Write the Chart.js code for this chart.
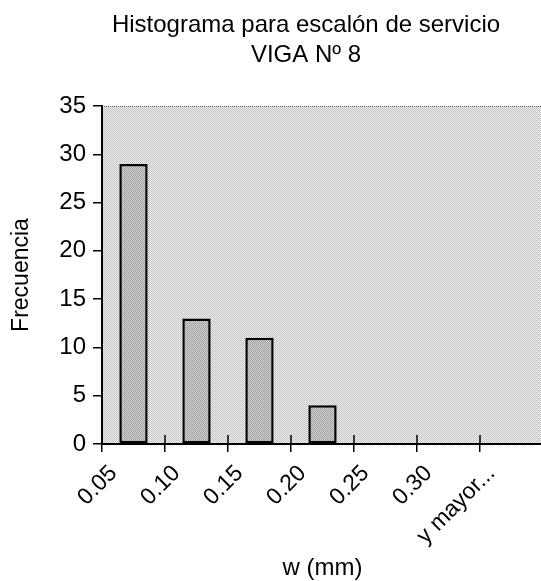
<!DOCTYPE html>
<html>
<head>
<meta charset="utf-8">
<script src="https://cdn.jsdelivr.net/npm/chart.js@4.4.0/dist/chart.umd.min.js"></script>
<style>
  html, body { margin: 0; padding: 0; background: #fff; overflow: hidden; }
  #wrap { width: 543px; height: 581px; }
</style>
</head>
<body>
<div id="wrap"><canvas id="hist"></canvas></div>
<script>
// histogram data
const titleLines = ['Histograma para escalón de servicio', 'VIGA Nº 8']
const classes = ['0.05', '0.10', '0.15', '0.20', '0.25', '0.30', 'y mayor...']
const frequencies = [29, 13, 11, 4, 0, 0, 0]
const yTicks = [0, 5, 10, 15, 20, 25, 30, 35]

const FONT = "'Liberation Sans', Arial, sans-serif"

// small checker pattern so the fills look like printed halftone
function halftone(dark, light) {
  const c = document.createElement('canvas')
  c.width = 2
  c.height = 2
  const g = c.getContext('2d')
  g.fillStyle = light
  g.fillRect(0, 0, 2, 2)
  g.fillStyle = dark
  g.fillRect(0, 0, 1, 1)
  g.fillRect(1, 1, 1, 1)
  return g.createPattern(c, 'repeat')
}

const plotFill = halftone('#c6c6c6', '#ececec')
const barFill = halftone('#a4a4a4', '#cdcdcd')

// grey plot area plus the dotted top edge
const plotBackground = {
  id: 'plotBackground',
  beforeDraw(chart) {
    const { ctx, chartArea: a } = chart
    ctx.save()
    ctx.fillStyle = plotFill
    ctx.fillRect(a.left, a.top, a.right - a.left, a.bottom - a.top)
    ctx.strokeStyle = '#555'
    ctx.lineWidth = 1
    ctx.setLineDash([1, 1])
    ctx.beginPath()
    ctx.moveTo(a.left, a.top + 0.5)
    ctx.lineTo(a.right, a.top + 0.5)
    ctx.stroke()
    ctx.restore()
  }
}

// two line title, centred a bit left of the plot
const chartTitle = {
  id: 'chartTitle',
  afterDraw(chart) {
    const { ctx } = chart
    ctx.save()
    ctx.fillStyle = '#000'
    ctx.font = '24px ' + FONT
    ctx.textAlign = 'center'
    ctx.textBaseline = 'alphabetic'
    ctx.fillText(titleLines[0], 306, 32)
    ctx.fillText(titleLines[1], 306, 62)
    ctx.restore()
  }
}

// x tick marks cross the axis, draw the part inside the plot
const crossTicks = {
  id: 'crossTicks',
  afterDatasetsDraw(chart) {
    const { ctx, chartArea: a, scales: { x } } = chart
    ctx.save()
    ctx.strokeStyle = '#000'
    ctx.lineWidth = 1.5
    ctx.beginPath()
    for (let i = 1; i <= classes.length; i++) {
      const px = (x.getPixelForValue(i - 1) + x.getPixelForValue(i)) / 2
      ctx.moveTo(px, a.bottom)
      ctx.lineTo(px, a.bottom - 9)
    }
    ctx.stroke()
    ctx.restore()
  }
}

new Chart(document.getElementById('hist'), {
  type: 'bar',
  data: {
    labels: classes,
    datasets: [{
      data: frequencies,
      backgroundColor: barFill,
      borderColor: '#000',
      borderWidth: 2.5,
      borderSkipped: false,
      categoryPercentage: 1,
      barPercentage: 0.45
    }]
  },
  options: {
    responsive: true,
    maintainAspectRatio: false,
    animation: false,
    layout: { padding: { top: 106, left: 0, right: 0, bottom: 0 } },
    plugins: {
      legend: { display: false },
      tooltip: { enabled: false }
    },
    scales: {
      x: {
        afterFit(scale) { scale.height = 137 },
        grid: {
          offset: true,
          drawOnChartArea: false,
          drawTicks: true,
          tickLength: 8,
          color: '#000',
          lineWidth: 1.5
        },
        border: { color: '#000', width: 2 },
        ticks: {
          color: '#000',
          font: { family: FONT, size: 23 },
          minRotation: 45,
          maxRotation: 45,
          padding: 8,
          labelOffset: -20,
          autoSkip: false
        },
        title: {
          display: true,
          text: 'w (mm)',
          color: '#000',
          font: { family: FONT, size: 24, lineHeight: 1 },
          padding: { top: 0, bottom: 1 }
        }
      },
      y: {
        min: yTicks[0],
        max: yTicks[yTicks.length - 1],
        afterFit(scale) { scale.width = 102 },
        grid: {
          drawOnChartArea: false,
          drawTicks: true,
          tickLength: 9,
          color: '#000',
          lineWidth: 1.5
        },
        border: { color: '#000', width: 2 },
        ticks: {
          stepSize: yTicks[1] - yTicks[0],
          color: '#000',
          font: { family: FONT, size: 24 },
          padding: 7
        },
        title: {
          display: true,
          text: 'Frecuencia',
          color: '#000',
          font: { family: FONT, size: 23, lineHeight: 1.2 },
          padding: { top: 8, bottom: 0 }
        }
      }
    }
  },
  plugins: [plotBackground, chartTitle, crossTicks]
})
</script>
</body>
</html>
